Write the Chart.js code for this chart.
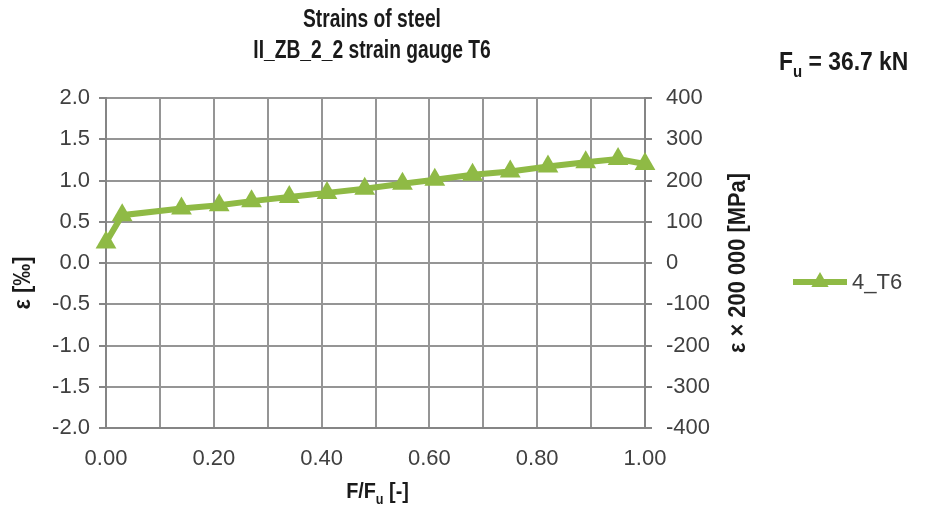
<!DOCTYPE html>
<html>
<head>
<meta charset="utf-8">
<script src="https://cdn.jsdelivr.net/npm/chart.js@4"></script>
<style>
  html, body { margin: 0; padding: 0; background: #fff; }
  #wrap { width: 929px; height: 513px; }
</style>
</head>
<body>
<div id="wrap"><canvas id="strainChart"></canvas></div>
<script>
// F/Fu ratio and strain [‰]
const loadRatio = [0.00, 0.03, 0.14, 0.21, 0.27, 0.34, 0.41, 0.48, 0.55, 0.61, 0.68, 0.75, 0.82, 0.89, 0.95, 1.00];
const strainT6 = [0.25, 0.58, 0.66, 0.70, 0.75, 0.80, 0.85, 0.90, 0.96, 1.01, 1.07, 1.11, 1.17, 1.22, 1.26, 1.20];
const seriesName = "4_T6";
const titleLines = ["Strains of steel", "II_ZB_2_2 strain gauge T6"];

const FONT = "'Liberation Sans', Arial, sans-serif";
const GREEN = "#8fba45";
const TEXT = "#404040";

// draw text pieces in a row (some subscript), squeezed horizontally by sx
function drawRich(ctx, parts, x, y, size, align, sx) {
    ctx.save();
    ctx.translate(x, y);
    ctx.scale(sx, 1);
    let total = 0;
    parts.forEach(p => {
        ctx.font = "bold " + (p.sub ? Math.round(size * 0.65) : size) + "px " + FONT;
        total += ctx.measureText(p.t).width;
    });
    let cx = align === "center" ? -total / 2 : 0;
    ctx.textBaseline = "middle";
    ctx.textAlign = "left";
    parts.forEach(p => {
        ctx.font = "bold " + (p.sub ? Math.round(size * 0.65) : size) + "px " + FONT;
        ctx.fillText(p.t, cx, p.sub ? size * 0.35 : 0);
        cx += ctx.measureText(p.t).width;
    });
    ctx.restore();
}

const textPlugin = {
    id: "texts",
    afterDraw(chart) {
        const ctx = chart.ctx;
        const area = chart.chartArea;
        ctx.save();
        ctx.fillStyle = "#1a1a1a";

        // title, narrow bold like the original
        drawRich(ctx, [{t: titleLines[0]}], 372, 20, 26, "center", 0.74);
        drawRich(ctx, [{t: titleLines[1]}], 372, 51, 26, "center", 0.74);

        drawRich(ctx, [{t: "F"}, {t: "u", sub: true}, {t: " = 36.7 kN"}], 779, 63, 26, "left", 0.88);

        // x axis title
        drawRich(ctx, [{t: "F/F"}, {t: "u", sub: true}, {t: " [-]"}], (area.left + area.right) / 2 + 2, 492, 22, "center", 0.9);

        // left axis title
        ctx.save();
        ctx.translate(24, 283);
        ctx.rotate(-Math.PI / 2);
        drawRich(ctx, [{t: "ε [‰]"}], 0, 0, 23, "center", 0.95);
        ctx.restore();

        // right axis title
        ctx.save();
        ctx.translate(739, 263);
        ctx.rotate(-Math.PI / 2);
        drawRich(ctx, [{t: "ε × 200 000 [MPa]"}], 0, 0, 23, "center", 0.95);
        ctx.restore();

        // legend
        ctx.strokeStyle = GREEN;
        ctx.fillStyle = GREEN;
        ctx.lineWidth = 6;
        ctx.beginPath();
        ctx.moveTo(793, 282);
        ctx.lineTo(847, 282);
        ctx.stroke();
        const r = 10;
        ctx.beginPath();
        ctx.moveTo(820, 282 - r);
        ctx.lineTo(820 + r * 0.866, 282 + r / 2);
        ctx.lineTo(820 - r * 0.866, 282 + r / 2);
        ctx.closePath();
        ctx.fill();
        ctx.fillStyle = TEXT;
        ctx.font = "22px " + FONT;
        ctx.textAlign = "left";
        ctx.textBaseline = "middle";
        ctx.fillText(seriesName, 852, 283);

        ctx.restore();
    }
};

const ctx = document.getElementById("strainChart").getContext("2d");

new Chart(ctx, {
    type: "line",
    data: {
        datasets: [{
            label: seriesName,
            data: loadRatio.map((v, i) => ({ x: v, y: strainT6[i] })),
            borderColor: GREEN,
            backgroundColor: GREEN,
            borderWidth: 6,
            pointStyle: "triangle",
            pointRadius: 12,
            pointBorderWidth: 0,
            pointBackgroundColor: GREEN,
            tension: 0,
            clip: false,
            yAxisID: "y"
        }]
    },
    options: {
        responsive: true,
        maintainAspectRatio: false,
        animation: false,
        layout: { padding: { top: 98, left: 0, right: 0, bottom: 0 } },
        plugins: {
            legend: { display: false },
            tooltip: { enabled: false }
        },
        scales: {
            x: {
                type: "linear",
                min: 0,
                max: 1,
                ticks: {
                    stepSize: 0.1,
                    color: TEXT,
                    font: { family: FONT, size: 22 },
                    padding: 14,
                    maxRotation: 0,
                    autoSkip: false,
                    callback: (v, i) => i % 2 === 0 ? v.toFixed(2) : ""
                },
                grid: {
                    color: "#959595",
                    lineWidth: 2,
                    tickLength: 4,
                    tickColor: "rgba(0,0,0,0)"
                },
                border: { color: "#858585", width: 2 },
                afterFit: s => { s.height = 85; }
            },
            y: {
                position: "left",
                min: -2,
                max: 2,
                ticks: {
                    stepSize: 0.5,
                    color: TEXT,
                    font: { family: FONT, size: 22 },
                    padding: 9,
                    callback: v => v.toFixed(1)
                },
                grid: {
                    color: "#959595",
                    lineWidth: 2,
                    tickLength: 7,
                    tickColor: "#858585"
                },
                border: { color: "#858585", width: 2 },
                afterFit: s => { s.width = 106; }
            },
            y2: {
                position: "right",
                min: -400,
                max: 400,
                ticks: {
                    stepSize: 100,
                    color: TEXT,
                    font: { family: FONT, size: 22 },
                    padding: 14
                },
                grid: {
                    drawOnChartArea: false,
                    tickLength: 7,
                    lineWidth: 2,
                    tickColor: "#858585"
                },
                border: { color: "#858585", width: 2 },
                afterFit: s => { s.width = 284; }
            }
        }
    },
    plugins: [textPlugin]
});
</script>
</body>
</html>
